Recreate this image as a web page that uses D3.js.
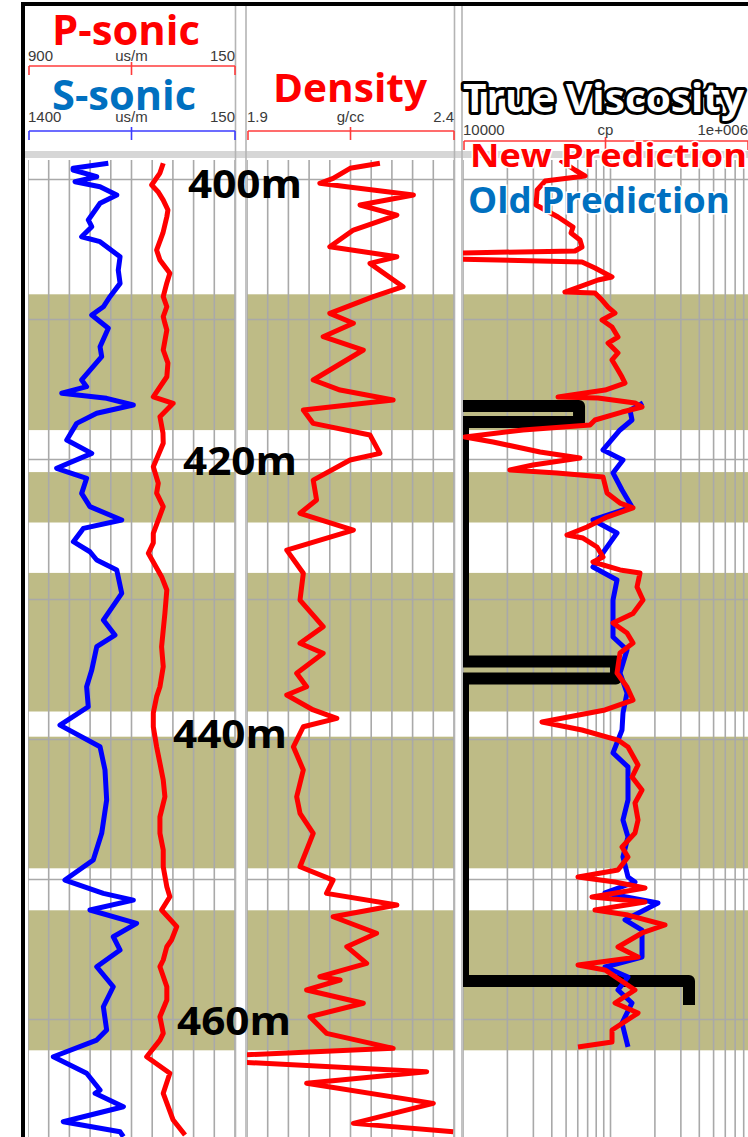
<!DOCTYPE html>
<html>
<head>
<meta charset="utf-8">
<script src="https://cdn.jsdelivr.net/npm/d3@7"></script>
<style>
  html, body { margin: 0; padding: 0; background: #fff; }
  svg { display: block; }
</style>
</head>
<body>
<div id="chart"></div>
<script>
// depths in m, values
const depthLabels = [400, 420, 440, 460];
const sandBands = [[408.2, 417.9], [420.9, 424.5], [428.1, 438.0], [439.8, 449.2], [452.2, 462.2]];

const sSonicRange = [1400, 150];
const pSonicRange = [900, 150];
const densityRange = [1.9, 2.4];
const viscRange = [1e4, 1e6];

const pSonicScale = ['900', 'us/m', '150'];
const sSonicScale = ['1400', 'us/m', '150'];
const densityScale = ['1.9', 'g/cc', '2.4'];
const viscScale = ['10000', 'cp', '1e+006'];

// [depth, us/m]
const sSonic = [
  [398.84, 915], [399.2, 1128], [399.32, 1128], [399.8, 985], [400.16, 1116], [400.52, 965],
  [401.11, 864], [401.7, 965], [402.89, 1036], [403.37, 1015], [404.09, 1076], [404.44, 965],
  [405.52, 844], [406.47, 855], [407.42, 844], [408.37, 905], [409.09, 945], [409.68, 1015],
  [410.63, 915], [411.94, 965], [412.66, 955], [414.32, 1076], [414.8, 1046], [415.27, 1196],
  [415.63, 925], [416.11, 764], [416.7, 985], [417.42, 1106], [418.61, 1166], [419.56, 1015],
  [420.63, 1227], [421.34, 1046], [422.42, 1076], [423.37, 1026], [424.32, 834], [424.92, 1066],
  [425.87, 1126], [426.59, 1026], [427.18, 985], [427.89, 864], [429.56, 834], [431.47, 945],
  [432.54, 875], [433.37, 985], [435.04, 1015], [436.23, 1046], [437.66, 1036], [438.97, 1207],
  [440.52, 965], [442.18, 935], [444.32, 925], [446.7, 955], [448.61, 1006], [450.04, 1177],
  [450.99, 945], [451.47, 764], [452.18, 1026], [453.13, 744], [454.09, 885], [455.04, 844],
  [456.23, 985], [457.66, 885], [459.09, 945], [460.75, 925], [461.47, 985], [462.66, 1247],
  [463.84, 1046], [465.04, 965], [465.27, 995], [466.23, 824], [467.3, 1187], [468.02, 844],
  [468.37, 824]
];

// [depth, us/m]
const pSonic = [
  [398.84, 410], [399.54, 422], [400.39, 452], [400.87, 429], [401.47, 410], [402.18, 393],
  [402.66, 397], [403.82, 411], [405.04, 434], [405.75, 422], [406.7, 386], [407.39, 397],
  [408.37, 410], [409.09, 397], [409.8, 410], [410.27, 404], [410.75, 397], [412.18, 410],
  [413.11, 393], [414.09, 397], [415.52, 446], [415.99, 374], [416.94, 422], [418.11, 411],
  [418.84, 410], [420.52, 446], [421.7, 428], [422.4, 434], [423.37, 410], [425.27, 446],
  [425.96, 446], [426.7, 464], [428.37, 416], [429.32, 397], [430.99, 404], [432.18, 410],
  [433.37, 416], [434.8, 410], [436.23, 422], [436.94, 434], [438.11, 446], [439.09, 446],
  [440.52, 434], [441.7, 422], [442.89, 410], [444.09, 404], [445.52, 422], [446.7, 422],
  [447.89, 410], [449.09, 410], [450.52, 397], [451.23, 386], [452.18, 416], [453.37, 361],
  [454.32, 380], [454.8, 397], [455.75, 410], [456.23, 422], [457.66, 397], [458.61, 397],
  [459.8, 422], [460.99, 410], [461.47, 422], [462.66, 470], [463.84, 386], [465.27, 410],
  [467.18, 374], [468.25, 331]
];

// [depth, g/cc]
const density = [
  [398.84, 2.221], [399.2, 2.149], [399.92, 2.108], [400.27, 2.076], [400.52, 2.141], [401.11, 2.302],
  [401.82, 2.173], [402.54, 2.262], [403.61, 2.157], [404.8, 2.100], [405.52, 2.262], [405.99, 2.197],
  [407.66, 2.277], [408.37, 2.205], [409.56, 2.100], [410.27, 2.157], [411.23, 2.084], [412.18, 2.181],
  [414.32, 2.060], [415.04, 2.125], [415.75, 2.253], [416.47, 2.036], [417.42, 2.060], [418.25, 2.197],
  [419.56, 2.221], [420.04, 2.149], [421.47, 2.060], [422.89, 2.068], [423.84, 2.028], [425.04, 2.157],
  [426.47, 1.996], [428.13, 2.036], [430.04, 2.028], [431.94, 2.084], [433.13, 2.028], [433.84, 2.084],
  [435.27, 2.020], [436.23, 2.044], [436.82, 1.996], [437.89, 2.060], [438.49, 2.117], [439.09, 2.036],
  [440.52, 2.012], [442.18, 2.036], [444.09, 2.020], [445.27, 2.028], [446.7, 2.060], [449.09, 2.028],
  [450.04, 2.108], [450.99, 2.092], [451.82, 2.262], [452.66, 2.108], [453.84, 2.213], [454.8, 2.141],
  [455.99, 2.189], [456.94, 2.076], [457.18, 2.125], [457.89, 2.044], [458.84, 2.181], [459.8, 2.052],
  [460.99, 2.092], [462.06, 2.253], [462.54, 1.88], [463.04, 1.88], [463.73, 2.334], [464.56, 2.044],
  [465.99, 2.350], [467.42, 2.157], [468.02, 2.398]
];

// [depth, cp]
const newPrediction = [
  [398.61, 45500], [399.32, 57400], [399.75, 67200], [400.11, 36000], [400.75, 31800], [401.82, 31300],
  [402.68, 44100], [403.39, 55700], [403.82, 54000], [404.32, 62100], [404.82, 64100], [405.11, 57400],
  [405.25, 9000], [405.68, 9000], [405.89, 64100], [406.32, 78500], [406.96, 102400], [407.18, 82300],
  [408.04, 49100], [408.11, 78500], [408.61, 87600], [409.11, 96200], [409.54, 107300], [410.04, 87600],
  [410.54, 102400], [411.25, 112400], [411.68, 96200], [412.39, 112400], [412.89, 102400], [413.61, 112400],
  [414.11, 119700], [414.54, 125400], [415.04, 91800], [415.54, 44100], [415.61, 82300], [415.96, 146600],
  [416.25, 163600], [416.61, 119700], [417.18, 78500], [417.54, 72600], [417.89, 25500], [418.39, 10300],
  [418.75, 16000], [419.46, 33300], [419.89, 62100], [420.39, 29800], [420.75, 20800], [420.96, 43400],
  [421.25, 89000], [422.39, 94700], [423.11, 116000], [423.46, 142100], [424.11, 94700], [424.82, 69300],
  [425.39, 50700], [425.61, 65100], [426.25, 81000], [426.96, 89000], [427.32, 76100], [427.89, 116000],
  [428.11, 158500], [429.11, 151300], [430.04, 166100], [431.0, 142100], [431.68, 104000], [432.39, 129400],
  [433.11, 142100], [433.82, 116000], [435.25, 110700], [436.25, 129400], [437.18, 142100], [437.89, 91800],
  [438.75, 34300], [439.32, 64100], [440.04, 112400], [440.54, 131400], [441.82, 153700], [442.68, 139900],
  [443.61, 163600], [444.54, 146600], [445.75, 153700], [446.68, 146600], [447.68, 119700], [448.39, 131400],
  [449.32, 112400], [449.82, 60200], [450.18, 107300], [450.61, 171400], [451.25, 74900], [451.61, 171400],
  [452.18, 78500], [452.54, 131400], [453.25, 234200], [453.82, 163600], [454.82, 112400], [455.54, 153700],
  [456.11, 60200], [456.46, 91800], [457.89, 146600], [458.82, 107300], [459.54, 153700], [460.75, 102400],
  [461.61, 102400], [461.96, 60200]
];

// [depth, cp]
const oldPrediction = [
  [415.96, 166100], [416.47, 135600], [417.18, 139900], [417.89, 116000], [419.32, 89000], [420.04, 121500],
  [420.96, 104000], [422.18, 119700], [423.39, 139900], [424.32, 76100], [425.25, 110700], [426.25, 94700],
  [427.68, 76100], [428.61, 110700], [430.04, 104000], [431.47, 104000], [432.68, 104000], [433.61, 129400],
  [435.25, 116000], [436.68, 129400], [438.11, 121500], [439.32, 119700], [440.96, 104000], [441.96, 131400],
  [444.32, 131400], [445.75, 121500], [446.96, 131400], [448.39, 121500], [449.82, 131400], [450.18, 146600],
  [450.96, 91800], [451.68, 209900], [452.89, 125400], [453.61, 163600], [455.54, 163600], [456.25, 91800],
  [456.96, 131400], [457.89, 112400], [458.82, 139900], [460.25, 119700], [461.96, 131400]
];

// [depth, cp]
const trueViscosity = [
  [416.18, 10000], [416.18, 61200], [417.32, 61200], [417.32, 10000],
  [434.43, 10000], [434.43, 109000], [435.64, 109000], [435.64, 10000],
  [457.25, 10000], [457.25, 340600], [458.96, 340600]
];

const W = 748, H = 1137;
const plotTop = 160;
const T1 = [28, 235], T2 = [247, 454], T3 = [463, 758];
const bandColor = '#BEBB86';
const gridColor = '#A9A9A9';
const titleFont = '"Open Sans", sans-serif';
const smallFont = '"Liberation Sans", Arial, sans-serif';

const svg = d3.select('#chart').append('svg')
  .attr('width', W)
  .attr('height', H);

svg.append('rect').attr('width', W).attr('height', H).attr('fill', '#fff');

const y = d3.scaleLinear().domain([400, 460]).range([179.5, 1019.5]);
const xS = d3.scaleLinear().domain(sSonicRange).range(T1);
const xP = d3.scaleLinear().domain(pSonicRange).range(T1);
const xD = d3.scaleLinear().domain(densityRange).range(T2);
const xV = d3.scaleLog().domain(viscRange).range(T3);

const defs = svg.append('defs');

// one body per track: bands, grid, clip
function makeTrack(id, range, gridXs) {
  defs.append('clipPath').attr('id', 'clip-' + id)
    .append('rect')
    .attr('x', range[0]).attr('y', plotTop)
    .attr('width', range[1] - range[0]).attr('height', H - plotTop);

  const g = svg.append('g').attr('clip-path', 'url(#clip-' + id + ')');

  g.selectAll('rect.band')
    .data(sandBands)
    .enter()
    .append('rect')
    .attr('class', 'band')
    .attr('x', range[0])
    .attr('width', range[1] - range[0])
    .attr('y', d => y(d[0]))
    .attr('height', d => y(d[1]) - y(d[0]))
    .attr('fill', bandColor);

  g.selectAll('line.vgrid')
    .data(gridXs)
    .enter()
    .append('line')
    .attr('x1', d => d).attr('x2', d => d)
    .attr('y1', plotTop).attr('y2', H)
    .attr('stroke', gridColor)
    .attr('stroke-width', 1.6);

  g.selectAll('line.hgrid')
    .data(d3.range(390, 480, 10))
    .enter()
    .append('line')
    .attr('x1', range[0]).attr('x2', range[1])
    .attr('y1', d => y(d)).attr('y2', d => y(d))
    .attr('stroke', gridColor)
    .attr('stroke-width', 1.6);

  return g;
}

const linGrid = r => d3.range(0, 11).map(d3.scaleLinear().domain([0, 10]).range(r));

const g1 = makeTrack('t1', T1, linGrid(T1));
const g2 = makeTrack('t2', T2, linGrid(T2));
const g3 = makeTrack('t3', T3, xV.ticks().map(xV));

function drawCurve(g, data, xs, color, width) {
  g.append('path')
    .datum(data)
    .attr('fill', 'none')
    .attr('stroke', color)
    .attr('stroke-width', width)
    .attr('stroke-linejoin', 'round')
    .attr('d', d3.line().x(d => xs(d[1])).y(d => y(d[0])));
}

drawCurve(g1, sSonic, xS, '#0000FF', 5);
drawCurve(g1, pSonic, xP, '#FF0000', 5);
drawCurve(g2, density, xD, '#FF0000', 5);
drawCurve(g3, trueViscosity, xV, '#000000', 12);
drawCurve(g3, oldPrediction, xV, '#0000FF', 5);
drawCurve(g3, newPrediction, xV, '#FF0000', 5);

// header / body separators
svg.append('rect')
  .attr('x', 25).attr('y', 151).attr('width', W).attr('height', 7)
  .attr('fill', '#D6D6D6');

[235.5, 246, 454.5, 462].forEach(x => {
  svg.append('line')
    .attr('x1', x).attr('x2', x).attr('y1', 6).attr('y2', H)
    .attr('stroke', '#B4B4B4').attr('stroke-width', 1.6);
});

// header scale bars
function scaleBar(range, yy, color, labels, labelY) {
  const mid = (range[0] + range[1]) / 2;
  const g = svg.append('g');
  g.append('line').attr('x1', range[0] + 1).attr('x2', range[1]).attr('y1', yy).attr('y2', yy)
    .attr('stroke', color).attr('stroke-width', 1.6);
  [[range[0] + 1, yy], [range[1], yy], [mid, yy - 4]].forEach(p => {
    g.append('line').attr('x1', p[0]).attr('x2', p[0]).attr('y1', p[1]).attr('y2', yy + 9)
      .attr('stroke', color).attr('stroke-width', 1.6);
  });
  const anchors = ['start', 'middle', 'end'];
  const xs = [range[0], mid, range[1]];
  labels.forEach((t, i) => {
    g.append('text')
      .attr('x', xs[i]).attr('y', labelY)
      .attr('text-anchor', anchors[i])
      .style('font-family', smallFont)
      .style('font-size', '15px')
      .attr('fill', '#3a3a3a')
      .text(t);
  });
}

scaleBar(T1, 66, '#FF3B3B', pSonicScale, 61);
scaleBar(T1, 131, '#3B3BFF', sSonicScale, 122);
scaleBar(T2, 131, '#FF3B3B', densityScale, 122);
scaleBar([463, 748], 141, '#FF3B3B', viscScale, 135);

function title(txt, x, yy, size, len, color, anchor) {
  return svg.append('text')
    .attr('x', x).attr('y', yy)
    .attr('text-anchor', anchor || 'middle')
    .attr('textLength', len)
    .attr('lengthAdjust', 'spacingAndGlyphs')
    .style('font-family', titleFont)
    .style('font-weight', 700)
    .style('font-size', size + 'px')
    .attr('fill', color)
    .text(txt);
}

title('P-sonic', 126, 45, 42, 148, '#FF0000');
title('S-sonic', 124, 110, 42, 144, '#0070C0');
title('Density', 350, 102, 39, 154, '#FF0000');

title('True Viscosity', 463, 112, 40, 281, '#FFFFFF', 'start')
  .attr('stroke', '#000').attr('stroke-width', 6)
  .attr('stroke-linejoin', 'round')
  .style('paint-order', 'stroke');

title('New Prediction', 470, 167, 33, 277, '#FF0000', 'start')
  .attr('stroke', '#fff').attr('stroke-width', 3)
  .style('paint-order', 'stroke');
title('Old Prediction', 468, 213, 35, 262, '#0070C0', 'start')
  .attr('stroke', '#fff').attr('stroke-width', 3)
  .style('paint-order', 'stroke');

// depth markers
const depthLabelX = [245, 240, 230, 234];
const depthLabelDy = [18, 15, 8, 15];
svg.selectAll('text.depth')
  .data(depthLabels)
  .enter()
  .append('text')
  .attr('class', 'depth')
  .attr('x', (d, i) => depthLabelX[i])
  .attr('y', (d, i) => y(d) + depthLabelDy[i])
  .attr('text-anchor', 'middle')
  .attr('textLength', 114)
  .attr('lengthAdjust', 'spacingAndGlyphs')
  .style('font-family', titleFont)
  .style('font-weight', 700)
  .style('font-size', '39px')
  .attr('fill', '#000')
  .text(d => d + 'm');

// outer frame
svg.append('rect')
  .attr('x', 23).attr('y', 4)
  .attr('width', W + 20).attr('height', H + 20)
  .attr('fill', 'none')
  .attr('stroke', '#000')
  .attr('stroke-width', 4);
</script>
</body>
</html>
